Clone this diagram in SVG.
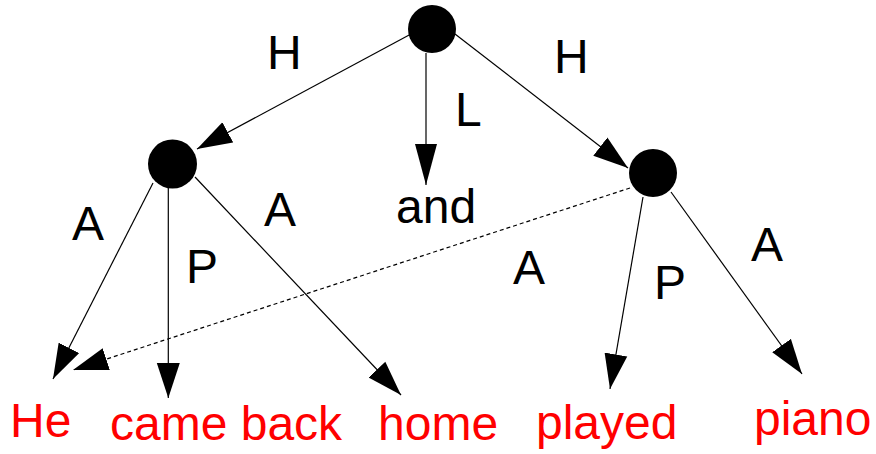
<svg xmlns="http://www.w3.org/2000/svg" width="876" height="454" viewBox="0 0 876 454">
<style>
.e{stroke:#000;stroke-width:1.2;fill:none}
.d{stroke:#000;stroke-width:1.2;fill:none;stroke-dasharray:4 3}
.n{fill:#000}
.lbl{font-family:"Liberation Sans",Arial,sans-serif;font-size:48px;fill:#000}
.w{font-family:"Liberation Sans",Arial,sans-serif;font-size:48px;fill:#ff0000}
</style>
<defs>
<marker id="ah" markerUnits="userSpaceOnUse" markerWidth="35" markerHeight="24" refX="35" refY="12" orient="auto"><path d="M0,0.5 L35,12 L0,23.5 z" fill="#000"/></marker>
<marker id="ahl" markerUnits="userSpaceOnUse" markerWidth="41" markerHeight="24" refX="41" refY="12" orient="auto"><path d="M0,1 L41,12 L0,23 z" fill="#000"/></marker>
</defs>
<g id="connectors">
<line class="e" x1="411" y1="34" x2="197" y2="149" marker-end="url(#ah)"/>
<line class="e" x1="426" y1="53" x2="426" y2="185" marker-end="url(#ahl)"/>
<line class="e" x1="455" y1="34" x2="628" y2="168" marker-end="url(#ah)"/>
<line class="e" x1="153" y1="183" x2="53" y2="379" marker-end="url(#ah)"/>
<line class="e" x1="168.3" y1="188" x2="168.3" y2="398" marker-end="url(#ah)"/>
<line class="e" x1="195" y1="177" x2="401" y2="395" marker-end="url(#ah)"/>
<line class="e" x1="643" y1="197" x2="610" y2="389" marker-end="url(#ah)"/>
<line class="e" x1="671" y1="192" x2="802" y2="374" marker-end="url(#ah)"/>
<line class="d" x1="630" y1="188" x2="73" y2="370" marker-end="url(#ah)"/>
<text class="lbl" x="267" y="69">H</text>
<text class="lbl" x="554" y="73">H</text>
<text class="lbl" x="455" y="126">L</text>
<text class="lbl" x="72" y="240">A</text>
<text class="lbl" x="186" y="283">P</text>
<text class="lbl" x="264" y="226">A</text>
<text class="lbl" x="513" y="284">A</text>
<text class="lbl" x="654" y="299">P</text>
<text class="lbl" x="751" y="261">A</text>
</g>
<g id="root"><circle class="n" cx="432" cy="29" r="24"/></g>
<g id="left"><circle class="n" cx="172.5" cy="164" r="24.5"/></g>
<g id="right"><circle class="n" cx="653" cy="173" r="24"/></g>
<g id="and"><text class="lbl" x="396" y="223">and</text></g>
<g id="he"><text class="w" x="10" y="437">He</text></g>
<g id="cameback"><text class="w" x="110" y="440">came back</text></g>
<g id="home"><text class="w" x="378" y="440">home</text></g>
<g id="played"><text class="w" x="536" y="439">played</text></g>
<g id="piano"><text class="w" x="754" y="435">piano</text></g>
</svg>
